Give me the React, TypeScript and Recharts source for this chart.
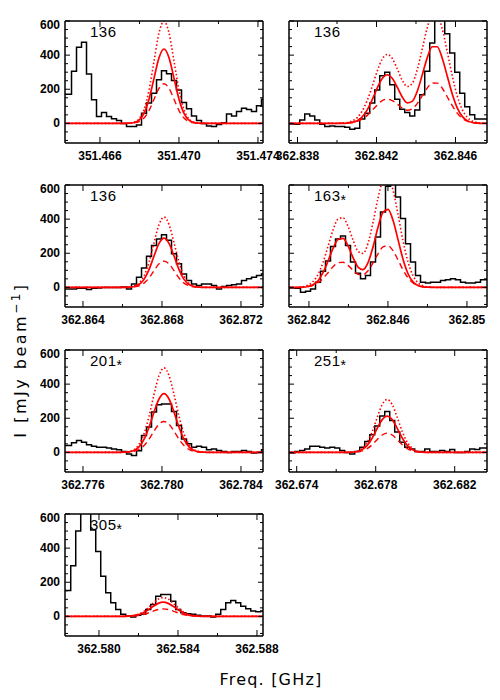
import React from 'react';
import { ComposedChart, Line, XAxis, YAxis } from 'recharts';

// channel width and visible span of every panel (GHz)
const CH = 0.00025316;
const SPAN = 0.010025;

const Y_TICKS = [-100, -50, 0, 50, 100, 150, 200, 250, 300, 350, 400, 450, 500, 550, 600];
const Y_LABELS = [0, 200, 400, 600];

// panel 1: 136, 351.47 GHz
const p1Left = 351.46423;
const p1Start = 351.46418;
const p1Ticks = [351.466, 351.468, 351.47, 351.472, 351.474];
const p1Labels = ['351.466', '351.470', '351.474'];
const p1Spec = [171, 171, 305, 446, 475, 289, 138, 40, 64, 40, 27, 17, 0, -19, -19, -9, 60, 119, 177, 255, 309, 291, 251, 196, 122, 85, 43, 17, 0, -15, -19, -6, 4, 55, 43, 70, 89, 82, 70, 104, 142];
const p1Fit = [0, 0, 0, 0, 0, 0, 0, 0, 0, 0, 0, 0, 0, 1, 5, 19, 59, 142, 264, 385, 436, 385, 264, 142, 59, 19, 5, 1, 0, 0, 0, 0, 0, 0, 0, 0, 0, 0, 0, 0, 0];
const p1Hi = [0, 0, 0, 0, 0, 0, 0, 0, 0, 0, 0, 0, 0, 1, 7, 26, 81, 195, 364, 530, 600, 530, 364, 195, 81, 26, 7, 1, 0, 0, 0, 0, 0, 0, 0, 0, 0, 0, 0, 0, 0];
const p1Lo = [0, 0, 0, 0, 0, 0, 0, 0, 0, 0, 0, 0, 0, 1, 3, 10, 31, 75, 141, 205, 232, 205, 141, 75, 31, 10, 3, 1, 0, 0, 0, 0, 0, 0, 0, 0, 0, 0, 0, 0, 0];

// panel 2: 136, 362.84 GHz
const p2Left = 362.83757;
const p2Start = 362.83748;
const p2Ticks = [362.838, 362.84, 362.842, 362.844, 362.846];
const p2Labels = ['362.838', '362.842', '362.846'];
const p2Spec = [-3, -3, -5, 20, 55, 43, 20, -5, -19, -15, -19, -19, -23, -34, -28, 25, 60, 119, 196, 279, 299, 227, 142, 83, 64, 43, 79, 168, 305, 471, 640, 650, 526, 412, 299, 177, 98, 50, 25, 25, 25];
const p2Fit = [0, 0, 0, 0, 0, 0, 0, 0, 0, 0, 0, 0, 2, 6, 16, 38, 79, 139, 207, 263, 285, 264, 212, 155, 120, 129, 188, 283, 384, 449, 449, 382, 278, 172, 91, 41, 16, 5, 1, 0, 0];
const p2Hi = [0, 0, 0, 0, 0, 0, 0, 0, 0, 0, 0, 2, 5, 14, 34, 73, 135, 217, 306, 377, 404, 381, 320, 253, 216, 234, 314, 435, 560, 638, 636, 554, 421, 280, 161, 81, 36, 14, 5, 1, 0];
const p2Lo = [0, 0, 0, 0, 0, 0, 0, 0, 0, 0, 0, 1, 2, 5, 12, 26, 47, 77, 108, 133, 142, 134, 113, 90, 77, 85, 116, 161, 207, 237, 236, 206, 156, 104, 60, 30, 13, 5, 2, 0, 0];

// panel 3: 136, 362.87 GHz
const p3Left = 362.86309;
const p3Start = 362.86304;
const p3Ticks = [362.864, 362.866, 362.868, 362.87, 362.872];
const p3Labels = ['362.864', '362.868', '362.872'];
const p3Spec = [-9, -9, -9, -5, -5, -12, -5, -3, 0, 0, 0, 0, 2, -9, 20, 60, 113, 183, 246, 283, 309, 276, 197, 138, 79, 40, 20, 11, 20, 20, 11, -9, 5, 11, 15, 20, 40, 50, 60, 70, 79];
const p3Fit = [0, 0, 0, 0, 0, 0, 0, 0, 0, 0, 0, 0, 0, 1, 5, 17, 47, 104, 184, 258, 289, 258, 184, 104, 47, 17, 5, 1, 0, 0, 0, 0, 0, 0, 0, 0, 0, 0, 0, 0, 0];
const p3Hi = [0, 0, 0, 0, 0, 0, 0, 0, 0, 0, 0, 0, 0, 2, 7, 24, 67, 148, 262, 368, 412, 368, 262, 148, 67, 24, 7, 2, 0, 0, 0, 0, 0, 0, 0, 0, 0, 0, 0, 0, 0];
const p3Lo = [0, 0, 0, 0, 0, 0, 0, 0, 0, 0, 0, 0, 0, 1, 3, 9, 25, 55, 98, 138, 154, 138, 98, 55, 25, 9, 3, 1, 0, 0, 0, 0, 0, 0, 0, 0, 0, 0, 0, 0, 0];

// panel 4: 163*, 362.84 GHz
const p4Left = 362.84099;
const p4Start = 362.84094;
const p4Ticks = [362.842, 362.844, 362.846, 362.848, 362.85];
const p4Labels = ['362.842', '362.846', '362.85'];
const p4Spec = [-3, -3, -5, -28, -23, -9, 30, 95, 154, 240, 283, 301, 246, 148, 83, 50, 70, 148, 295, 442, 593, 650, 530, 403, 256, 148, 70, 30, 25, 30, 30, 40, 44, 50, 44, 30, 25, 25, 30, 44, 44];
const p4Fit = [0, 0, 0, 1, 5, 15, 39, 86, 154, 228, 281, 287, 244, 175, 119, 104, 145, 237, 352, 440, 457, 393, 280, 165, 80, 32, 11, 3, 1, 0, 0, 0, 0, 0, 0, 0, 0, 0, 0, 0, 0];
const p4Hi = [0, 0, 1, 4, 13, 34, 76, 146, 240, 336, 400, 408, 358, 278, 212, 199, 258, 380, 523, 629, 648, 570, 428, 273, 149, 69, 27, 9, 3, 1, 0, 0, 0, 0, 0, 0, 0, 0, 0, 0, 0];
const p4Lo = [0, 0, 0, 2, 5, 12, 27, 53, 86, 121, 144, 147, 129, 100, 77, 74, 97, 143, 197, 237, 244, 215, 161, 103, 56, 26, 10, 4, 1, 0, 0, 0, 0, 0, 0, 0, 0, 0, 0, 0, 0];

// panel 5: 201*, 362.78 GHz
const p5Left = 362.77509;
const p5Start = 362.77504;
const p5Ticks = [362.776, 362.778, 362.78, 362.782, 362.784];
const p5Labels = ['362.776', '362.780', '362.784'];
const p5Spec = [40, 40, 56, 70, 60, 44, 36, 30, 30, 25, 20, 15, 5, -9, -19, 10, 99, 148, 236, 279, 283, 283, 240, 158, 79, 50, 30, 36, 30, 15, 20, 11, 5, 0, 5, 5, 11, 5, -3, 0, 15];
const p5Fit = [0, 0, 0, 0, 0, 0, 0, 0, 0, 0, 0, 0, 1, 3, 11, 32, 76, 147, 236, 313, 344, 313, 236, 147, 76, 32, 11, 3, 1, 0, 0, 0, 0, 0, 0, 0, 0, 0, 0, 0, 0];
const p5Hi = [0, 0, 0, 0, 0, 0, 0, 0, 0, 0, 0, 0, 1, 5, 16, 47, 109, 211, 339, 450, 495, 450, 339, 211, 109, 47, 16, 5, 1, 0, 0, 0, 0, 0, 0, 0, 0, 0, 0, 0, 0];
const p5Lo = [0, 0, 0, 0, 0, 0, 0, 0, 0, 0, 0, 0, 0, 2, 6, 17, 40, 77, 124, 165, 181, 165, 124, 77, 40, 17, 6, 2, 0, 0, 0, 0, 0, 0, 0, 0, 0, 0, 0, 0, 0];

// panel 6: 251*, 362.68 GHz
const p6Left = 362.67361;
const p6Start = 362.67352;
const p6Ticks = [362.674, 362.676, 362.678, 362.68, 362.682];
const p6Labels = ['362.674', '362.678', '362.682'];
const p6Spec = [-3, -3, 5, 11, 20, 36, 36, 30, 26, 30, 25, 11, 0, -9, 5, 30, 64, 103, 154, 213, 240, 187, 119, 60, 30, 20, 5, 5, 20, 5, 5, 11, 5, 17, 0, 0, 5, 20, 17, 25, 25];
const p6Fit = [0, 0, 0, 0, 0, 0, 0, 0, 0, 0, 0, 0, 0, 1, 5, 16, 41, 84, 141, 192, 213, 192, 141, 84, 41, 16, 5, 1, 0, 0, 0, 0, 0, 0, 0, 0, 0, 0, 0, 0, 0];
const p6Hi = [0, 0, 0, 0, 0, 0, 0, 0, 0, 0, 0, 0, 0, 2, 7, 24, 60, 122, 205, 280, 310, 280, 205, 122, 60, 24, 7, 2, 0, 0, 0, 0, 0, 0, 0, 0, 0, 0, 0, 0, 0];
const p6Lo = [0, 0, 0, 0, 0, 0, 0, 0, 0, 0, 0, 0, 0, 1, 3, 9, 22, 45, 75, 102, 113, 102, 75, 45, 22, 9, 3, 1, 0, 0, 0, 0, 0, 0, 0, 0, 0, 0, 0, 0, 0];

// panel 7: 305*, 362.58 GHz
const p7Left = 362.57828;
const p7Start = 362.57819;
const p7Ticks = [362.58, 362.582, 362.584, 362.586, 362.588];
const p7Labels = ['362.580', '362.584', '362.588'];
const p7Spec = [151, 151, 297, 500, 680, 700, 506, 380, 235, 138, 80, 41, 12, 2, -4, 6, 12, 41, 70, 118, 128, 128, 89, 41, 21, 16, 12, 6, 2, 2, -4, 12, 41, 80, 93, 80, 60, 45, 31, 27, 31];
const p7Fit = [0, 0, 0, 0, 0, 0, 0, 0, 0, 0, 0, 0, 0, 1, 4, 9, 21, 38, 59, 76, 83, 76, 59, 38, 21, 9, 4, 1, 0, 0, 0, 0, 0, 0, 0, 0, 0, 0, 0, 0, 0];
const p7Hi = [0, 0, 0, 0, 0, 0, 0, 0, 0, 0, 0, 0, 0, 2, 5, 13, 27, 50, 78, 101, 110, 101, 78, 50, 27, 13, 5, 2, 0, 0, 0, 0, 0, 0, 0, 0, 0, 0, 0, 0, 0];
const p7Lo = [0, 0, 0, 0, 0, 0, 0, 0, 0, 0, 0, 0, 0, 1, 2, 5, 11, 20, 31, 40, 44, 40, 31, 20, 11, 5, 2, 1, 0, 0, 0, 0, 0, 0, 0, 0, 0, 0, 0, 0, 0];

// plot box size and padding around it
const PW = 198;
const PH = 122;
const PADL = 40;
const PADR = 26;
const PADT = 4;
const PADB = 24;

const FONT = '"Liberation Sans", Arial, sans-serif';
const TITLE_FONT = '"DejaVu Sans", sans-serif';
const TICK_FONT: React.CSSProperties = { fontFamily: FONT, fontWeight: 'bold', fontSize: 12, fill: '#000' };
const RED = '#ff0000';
const FRAME = { stroke: '#000', strokeWidth: 1.5 };

const isLabel = (labels: string[], v: number) => labels.find((s) => Math.abs(parseFloat(s) - v) < 1e-6);

function BottomTick(props: any) {
  const { x, y, payload, labels } = props;
  const lab = isLabel(labels, payload.value);
  return (
    <g>
      <line x1={x} x2={x} y1={y} y2={y - (lab ? 6 : 3)} stroke="#000" />
      {lab && (
        <text x={x} y={y + 17} textAnchor="middle" style={TICK_FONT}>
          {lab}
        </text>
      )}
    </g>
  );
}

function TopTick(props: any) {
  const { x, y, payload, labels } = props;
  const lab = isLabel(labels, payload.value);
  return <line x1={x} x2={x} y1={y} y2={y + (lab ? 6 : 3)} stroke="#000" />;
}

function LeftTick(props: any) {
  const { x, y, payload, show } = props;
  const major = Y_LABELS.includes(payload.value);
  // the top label is pushed down inside the frame
  const ly = Math.max(y, PADT + 4) + 4;
  return (
    <g>
      <line x1={x} x2={x + (major ? 5 : 3)} y1={y} y2={y} stroke="#000" />
      {show && major && (
        <text x={x - 5} y={ly} textAnchor="end" style={TICK_FONT}>
          {payload.value}
        </text>
      )}
    </g>
  );
}

function RightTick(props: any) {
  const { x, y, payload } = props;
  const major = Y_LABELS.includes(payload.value);
  return <line x1={x} x2={x - (major ? 5 : 3)} y1={y} y2={y} stroke="#000" />;
}

type PanelProps = {
  x: number;
  y: number;
  left: number;
  start: number;
  ticks: number[];
  labels: string[];
  spec: number[];
  fit: number[];
  hi: number[];
  lo: number[];
  yLabels: boolean;
};

function Panel(p: PanelProps) {
  const rows = p.spec.map((v, i) => ({ f: p.start + i * CH, spec: v, fit: p.fit[i], hi: p.hi[i], lo: p.lo[i] }));
  const dom = [p.left, p.left + SPAN];
  return (
    <div style={{ position: 'absolute', left: p.x - PADL, top: p.y - PADT }}>
      <ComposedChart
        width={PADL + PW + PADR}
        height={PADT + PH + PADB}
        data={rows}
        margin={{ top: PADT - 1, right: PADR - 1, bottom: 0, left: 0 }}
      >
        <XAxis dataKey="f" type="number" domain={dom} allowDataOverflow ticks={p.ticks} interval={0}
          height={PADB} tickSize={0} tickMargin={0} tickLine={false} axisLine={FRAME}
          tick={<BottomTick labels={p.labels} />} />
        <XAxis xAxisId="top" orientation="top" dataKey="f" type="number" domain={dom} allowDataOverflow
          ticks={p.ticks} interval={0} height={1} tickSize={0} tickMargin={0} tickLine={false} axisLine={FRAME}
          tick={<TopTick labels={p.labels} />} />
        <YAxis type="number" domain={[-115, 600]} allowDataOverflow ticks={Y_TICKS} interval={0}
          width={PADL} tickSize={0} tickMargin={0} tickLine={false} axisLine={FRAME}
          tick={<LeftTick show={p.yLabels} />} />
        <YAxis yAxisId="right" orientation="right" type="number" domain={[-115, 600]} allowDataOverflow
          ticks={Y_TICKS} interval={0} width={1} tickSize={0} tickMargin={0} tickLine={false} axisLine={FRAME}
          tick={<RightTick />} />
        <Line dataKey="spec" type="step" stroke="#000" strokeWidth={1.5} dot={false} isAnimationActive={false} />
        <Line dataKey="hi" type="monotone" stroke={RED} strokeWidth={1.6} strokeDasharray="1.5 2.2" dot={false} isAnimationActive={false} />
        <Line dataKey="lo" type="monotone" stroke={RED} strokeWidth={1.4} strokeDasharray="6 4" dot={false} isAnimationActive={false} />
        <Line dataKey="fit" type="monotone" stroke={RED} strokeWidth={1.7} dot={false} isAnimationActive={false} />
      </ComposedChart>
    </div>
  );
}

const COL = [65, 289];
const ROW = [21, 185, 350, 514];

function Name({ x, y, text, star }: { x: number; y: number; text: string; star?: boolean }) {
  return (
    <text x={x + 25} y={y + 16} style={{ fontFamily: FONT, fontSize: 15, letterSpacing: 0.5, fill: '#000' }}>
      {text}
      {star && <tspan dy={4} fontSize={14}>*</tspan>}
    </text>
  );
}

export default function App() {
  return (
    <div style={{ position: 'absolute', left: 0, top: 0, width: 500, height: 700, background: '#fff' }}>
      <Panel x={COL[0]} y={ROW[0]} left={p1Left} start={p1Start} ticks={p1Ticks} labels={p1Labels} spec={p1Spec} fit={p1Fit} hi={p1Hi} lo={p1Lo} yLabels />
      <Panel x={COL[1]} y={ROW[0]} left={p2Left} start={p2Start} ticks={p2Ticks} labels={p2Labels} spec={p2Spec} fit={p2Fit} hi={p2Hi} lo={p2Lo} yLabels={false} />
      <Panel x={COL[0]} y={ROW[1]} left={p3Left} start={p3Start} ticks={p3Ticks} labels={p3Labels} spec={p3Spec} fit={p3Fit} hi={p3Hi} lo={p3Lo} yLabels />
      <Panel x={COL[1]} y={ROW[1]} left={p4Left} start={p4Start} ticks={p4Ticks} labels={p4Labels} spec={p4Spec} fit={p4Fit} hi={p4Hi} lo={p4Lo} yLabels={false} />
      <Panel x={COL[0]} y={ROW[2]} left={p5Left} start={p5Start} ticks={p5Ticks} labels={p5Labels} spec={p5Spec} fit={p5Fit} hi={p5Hi} lo={p5Lo} yLabels />
      <Panel x={COL[1]} y={ROW[2]} left={p6Left} start={p6Start} ticks={p6Ticks} labels={p6Labels} spec={p6Spec} fit={p6Fit} hi={p6Hi} lo={p6Lo} yLabels={false} />
      <Panel x={COL[0]} y={ROW[3]} left={p7Left} start={p7Start} ticks={p7Ticks} labels={p7Labels} spec={p7Spec} fit={p7Fit} hi={p7Hi} lo={p7Lo} yLabels />

      {/* panel names and axis titles */}
      <svg width={500} height={700} style={{ position: 'absolute', left: 0, top: 0, pointerEvents: 'none' }}>
        <Name x={COL[0]} y={ROW[0]} text="136" />
        <Name x={COL[1]} y={ROW[0]} text="136" />
        <Name x={COL[0]} y={ROW[1]} text="136" />
        <Name x={COL[1]} y={ROW[1]} text="163" star />
        <Name x={COL[0]} y={ROW[2]} text="201" star />
        <Name x={COL[1]} y={ROW[2]} text="251" star />
        <Name x={COL[0]} y={ROW[3]} text="305" star />
        <text x={271} y={685} textAnchor="middle" style={{ fontFamily: TITLE_FONT, fontSize: 16, letterSpacing: 1.2, fill: '#000' }}>
          Freq. [GHz]
        </text>
        <text transform="translate(26,360) rotate(-90)" textAnchor="middle" style={{ fontFamily: TITLE_FONT, fontSize: 16, letterSpacing: 2.5, fill: '#000' }}>
          I [mJy beam<tspan dy={-6} fontSize={12}>−1</tspan><tspan dy={6}>]</tspan>
        </text>
      </svg>
    </div>
  );
}
